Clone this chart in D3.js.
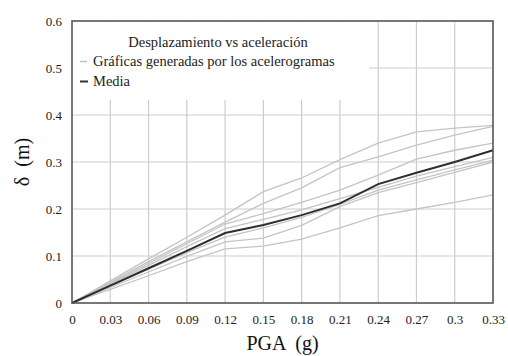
<!DOCTYPE html>
<html><head><meta charset="utf-8">
<script src="https://cdn.jsdelivr.net/npm/d3@7/dist/d3.min.js"></script>
<style>body{margin:0;background:#fff}svg{display:block}svg text{font-family:"Liberation Serif","Times New Roman","Tinos","Noto Serif","DejaVu Serif","FreeSerif",Georgia,Times,serif !important}</style>
</head><body><svg id="c" width="508" height="356"></svg>
<script>
const pga = [0, 0.03, 0.06, 0.09, 0.12, 0.15, 0.18, 0.21, 0.24, 0.27, 0.30, 0.33];
const xTicks = [0, 0.03, 0.06, 0.09, 0.12, 0.15, 0.18, 0.21, 0.24, 0.27, 0.3, 0.33];
const yTicks = [0, 0.1, 0.2, 0.3, 0.4, 0.5, 0.6];
const mediaValues = [0, 0.037, 0.074, 0.111, 0.149, 0.166, 0.187, 0.212, 0.253, 0.277, 0.300, 0.325];
const recordA = [0, 0.047, 0.094, 0.140, 0.187, 0.237, 0.266, 0.305, 0.340, 0.364, 0.372, 0.378];
const recordB = [0, 0.044, 0.088, 0.130, 0.172, 0.212, 0.245, 0.288, 0.311, 0.336, 0.357, 0.376];
const recordC = [0, 0.042, 0.084, 0.126, 0.168, 0.190, 0.214, 0.240, 0.272, 0.306, 0.325, 0.340];
const recordD = [0, 0.040, 0.080, 0.120, 0.158, 0.178, 0.198, 0.222, 0.246, 0.270, 0.290, 0.310];
const recordE = [0, 0.036, 0.072, 0.107, 0.140, 0.160, 0.182, 0.210, 0.240, 0.262, 0.283, 0.304];
const recordF = [0, 0.033, 0.066, 0.099, 0.130, 0.138, 0.165, 0.205, 0.235, 0.256, 0.278, 0.300];
const recordG = [0, 0.029, 0.058, 0.088, 0.115, 0.121, 0.136, 0.160, 0.186, 0.200, 0.214, 0.230];
const records = [recordA, recordB, recordC, recordD, recordE, recordF, recordG];
const legendTitle = "Desplazamiento vs aceleración";
const legendLabels = ["Gráficas generadas por los acelerogramas", "Media"];

const svg = d3.select("#c");
const L = 72, R = 493, T = 21, B = 303;
const x = d3.scaleLinear().domain([0, 0.33]).range([L, R]);
const y = d3.scaleLinear().domain([0, 0.6]).range([B, T]);
const gridC = "#cdcdcd";

svg.append("g").selectAll("line").data(xTicks.slice(1, -1)).join("line")
  .attr("x1", d => x(d)).attr("x2", d => x(d)).attr("y1", T).attr("y2", B)
  .attr("stroke", gridC).attr("stroke-width", 1.2);
svg.append("g").selectAll("line").data(yTicks.slice(1, -1)).join("line")
  .attr("x1", L).attr("x2", R).attr("y1", d => y(d)).attr("y2", d => y(d))
  .attr("stroke", gridC).attr("stroke-width", 1.2);

const line = d3.line().x((d, i) => x(pga[i])).y(d => y(d));
svg.append("g").selectAll("path").data(records).join("path")
  .attr("d", line).attr("fill", "none").attr("stroke", "#c4c4c4").attr("stroke-width", 1.3);
svg.append("path").datum(mediaValues).attr("d", line)
  .attr("fill", "none").attr("stroke", "#2e2e2e").attr("stroke-width", 2);

svg.append("rect").attr("x", L + 1).attr("y", T + 1).attr("width", 296).attr("height", 78).attr("fill", "#fff");
svg.append("text").attr("x", 218).attr("y", 47).attr("text-anchor", "middle")
  .attr("font-size", 14.5).attr("fill", "#222").text(legendTitle);
const lg = svg.append("g");
lg.append("line").attr("x1", 80).attr("x2", 87).attr("y1", 61.5).attr("y2", 61.5).attr("stroke", "#bbb").attr("stroke-width", 1.3);
lg.append("text").attr("x", 93).attr("y", 66).attr("font-size", 14.5).attr("fill", "#222").text(legendLabels[0]);
lg.append("line").attr("x1", 80).attr("x2", 88).attr("y1", 81.5).attr("y2", 81.5).attr("stroke", "#333").attr("stroke-width", 2);
lg.append("text").attr("x", 93).attr("y", 86).attr("font-size", 14.5).attr("fill", "#222").text(legendLabels[1]);

svg.append("rect").attr("x", L).attr("y", T).attr("width", R - L).attr("height", B - T)
  .attr("fill", "none").attr("stroke", "#555").attr("stroke-width", 1.6);

const xa = svg.append("g").attr("transform", `translate(0,${B})`)
  .call(d3.axisBottom(x).tickValues(xTicks).tickSize(0).tickPadding(12).tickFormat(d => String(+d.toFixed(2))));
xa.select(".domain").remove();
xa.selectAll("text").attr("font-size", 13).attr("fill", "#222");
const ya = svg.append("g").attr("transform", `translate(${L},0)`)
  .call(d3.axisLeft(y).tickValues(yTicks).tickSize(0).tickPadding(10).tickFormat(d => String(+d.toFixed(1))));
ya.select(".domain").remove();
ya.selectAll("text").attr("font-size", 13).attr("fill", "#222");

svg.append("text").attr("x", (L + R) / 2).attr("y", 350).attr("text-anchor", "middle")
  .attr("font-size", 20).attr("fill", "#111").style("white-space", "pre").text("PGA  (g)");
svg.append("text").attr("transform", `translate(29,${(T + B) / 2}) rotate(-90)`).attr("text-anchor", "middle")
  .attr("font-size", 20).attr("fill", "#111").style("white-space", "pre").text("δ  (m)");
</script></body></html>
